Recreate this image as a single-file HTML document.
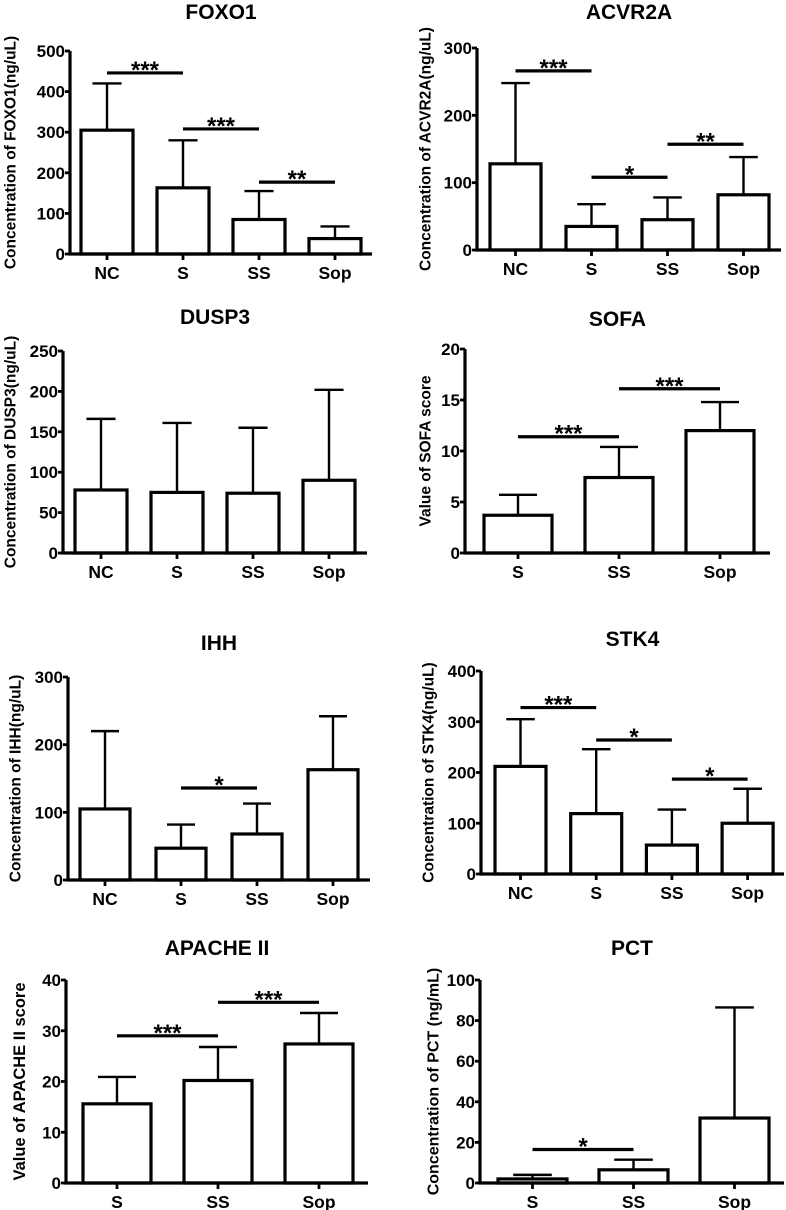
<!DOCTYPE html>
<html><head><meta charset="utf-8"><style>
html,body{margin:0;padding:0;background:#fff;}
svg{display:block;}
text{font-family:"Liberation Sans",Arial,sans-serif;font-weight:bold;fill:#000;}
</style></head><body>
<svg id="fig" width="786" height="1210" viewBox="0 0 786 1210" xmlns="http://www.w3.org/2000/svg"></svg>
<script>
// ---- data ----
const foxoCats=["NC","S","SS","Sop"], foxoMeans=[305,163,85,38], foxoErrs=[420,280,155,68], foxoTicks=[0,100,200,300,400,500];
const foxoSig=[[0,1,446,"***"],[1,2,308,"***"],[2,3,177,"**"]];
const acvCats=["NC","S","SS","Sop"], acvMeans=[128,35,45,82], acvErrs=[248,68,78,138], acvTicks=[0,100,200,300];
const acvSig=[[0,1,266,"***"],[1,2,108,"*"],[2,3,157,"**"]];
const duspCats=["NC","S","SS","Sop"], duspMeans=[78,75,74,90], duspErrs=[166,161,155,202], duspTicks=[0,50,100,150,200,250];
const duspSig=[];
const sofaCats=["S","SS","Sop"], sofaMeans=[3.7,7.4,12], sofaErrs=[5.7,10.4,14.8], sofaTicks=[0,5,10,15,20];
const sofaSig=[[0,1,11.4,"***"],[1,2,16.1,"***"]];
const ihhCats=["NC","S","SS","Sop"], ihhMeans=[105,47,68,163], ihhErrs=[220,82,113,242], ihhTicks=[0,100,200,300];
const ihhSig=[[1,2,136,"*"]];
const stkCats=["NC","S","SS","Sop"], stkMeans=[212,119,57,100], stkErrs=[305,246,127,168], stkTicks=[0,100,200,300,400];
const stkSig=[[0,1,328,"***"],[1,2,264,"*"],[2,3,187,"*"]];
const apaCats=["S","SS","Sop"], apaMeans=[15.6,20.2,27.4], apaErrs=[20.9,26.8,33.5], apaTicks=[0,10,20,30,40];
const apaSig=[[0,1,29,"***"],[1,2,35.6,"***"]];
const pctCats=["S","SS","Sop"], pctMeans=[2,6.5,32], pctErrs=[4,11.5,86.5], pctTicks=[0,20,40,60,80,100];
const pctSig=[[0,1,16.5,"*"]];

const NS="http://www.w3.org/2000/svg";
const svg=document.getElementById('fig');
function mk(tag,attrs,parent){const e=document.createElementNS(NS,tag);for(const k in attrs)e.setAttribute(k,attrs[k]);parent.appendChild(e);return e;}

function panel(p){
  const g=mk('g',{},svg);
  
  
  const yMax=p.ticks[p.ticks.length-1];
  const ys=v=>p.y0-(v/yMax)*(p.y0-p.yTop);
  const bx=i=>p.bar0+i*p.step;
  const cx=i=>bx(i)+p.bw/2;
  const t=mk('text',{x:(p.ax+p.xR)/2,y:p.titleY,'text-anchor':'middle','font-size':21},g);
  t.textContent=p.title;
  
  
  const yt=mk('text',{x:0,y:0,'text-anchor':'middle','font-size':p.ytfs||15.5,transform:`translate(${p.ytx},${(p.y0+p.yTop)/2}) rotate(-90)`,'dominant-baseline':'central'},g);
  yt.textContent=p.ytitle;
  
  
  p.cats.forEach((c,i)=>{
    const top=ys(p.means[i]);
    const r=mk('rect',{x:bx(i),y:top,width:p.bw,height:p.y0-top,fill:'#fff',stroke:'#000','stroke-width':3.2},g);
    
    
    const e=ys(p.errs[i]);
    const el=mk('path',{d:`M${cx(i)} ${top}V${e}M${cx(i)-p.bw*0.28} ${e}H${cx(i)+p.bw*0.28}`,stroke:'#000','stroke-width':2.4,fill:'none'},g);
    
    
    const tk=mk('line',{x1:cx(i),x2:cx(i),y1:p.y0,y2:p.y0+6,stroke:'#000','stroke-width':2.8},g);
    
    
    const lb=mk('text',{x:cx(i),y:p.y0+25,'text-anchor':'middle','font-size':17.5},g);
    lb.textContent=c;
    
    
  });
  const ax=mk('path',{d:`M${p.ax} ${p.yTop}V${p.y0}H${p.xR}`,stroke:'#000','stroke-width':3.2,fill:'none'},g);
  
  
  p.ticks.forEach(v=>{
    const y=ys(v);
    const tk=mk('line',{x1:p.ax-5,x2:p.ax,y1:y,y2:y,stroke:'#000','stroke-width':2.8},g);
    
    
    const lb=mk('text',{x:p.ax-5,y:y+6,'text-anchor':'end','font-size':17,'font-weight':p.regTicks?'normal':'bold'},g);
    lb.textContent=v;
    
    
  });
  p.sig.forEach(s=>{
    const y=ys(s[2]);
    const ln=mk('line',{x1:cx(s[0]),x2:cx(s[1]),y1:y,y2:y,stroke:'#000','stroke-width':3.2},g);
    
    
    const st=mk('text',{x:(cx(s[0])+cx(s[1]))/2,y:y+5,'text-anchor':'middle','font-size':24},g);
    st.textContent=s[3];
    
    
  });
}
panel({name:'foxo1',title:'FOXO1',ytitle:'Concentration of FOXO1(ng/uL)',cats:foxoCats,means:foxoMeans,errs:foxoErrs,ticks:foxoTicks,sig:foxoSig,
  ax:70,xR:372,y0:254,yTop:51,bar0:81,step:76,bw:52,titleY:19,ytx:11});
panel({name:'acvr2a',title:'ACVR2A',ytitle:'Concentration of ACVR2A(ng/uL)',cats:acvCats,means:acvMeans,errs:acvErrs,ticks:acvTicks,sig:acvSig,
  ax:477,xR:781,y0:250,yTop:48,bar0:490,step:76,bw:51,titleY:19,ytx:426});
panel({name:'dusp3',title:'DUSP3',ytitle:'Concentration of DUSP3(ng/uL)',cats:duspCats,means:duspMeans,errs:duspErrs,ticks:duspTicks,sig:duspSig,
  ax:63,xR:367,y0:553,yTop:351,bar0:75,step:76,bw:52,titleY:324,ytx:11});
panel({name:'sofa',title:'SOFA',ytitle:'Value of SOFA score',cats:sofaCats,means:sofaMeans,errs:sofaErrs,ticks:sofaTicks,sig:sofaSig,
  ax:465,xR:770,y0:553,yTop:349,bar0:484,step:101,bw:68,titleY:326,ytx:426});
panel({name:'ihh',title:'IHH',ytitle:'Concentration of IHH(ng/uL)',cats:ihhCats,means:ihhMeans,errs:ihhErrs,ticks:ihhTicks,sig:ihhSig,
  ax:68,xR:370,y0:880,yTop:677,bar0:80,step:76,bw:50,titleY:650,ytx:16});
panel({name:'stk4',title:'STK4',ytitle:'Concentration of STK4(ng/uL)',cats:stkCats,means:stkMeans,errs:stkErrs,ticks:stkTicks,sig:stkSig,
  ax:481,xR:784,y0:874,yTop:671,bar0:495,step:75.7,bw:51,titleY:646,ytx:429});
panel({name:'apache2',title:'APACHE II',ytitle:'Value of APACHE II score',cats:apaCats,means:apaMeans,errs:apaErrs,ticks:apaTicks,sig:apaSig,
  ax:66,xR:368,y0:1183,yTop:980,bar0:83,step:101,bw:68,titleY:955,ytx:20,ytfs:16.5});
panel({name:'pct',title:'PCT',ytitle:'Concentration of PCT (ng/mL)',cats:pctCats,means:pctMeans,errs:pctErrs,ticks:pctTicks,sig:pctSig,regTicks:true,
  ax:480,xR:784,y0:1183,yTop:980,bar0:498,step:101,bw:69,titleY:955,ytx:434,ytfs:16});
</script>
</body></html>
